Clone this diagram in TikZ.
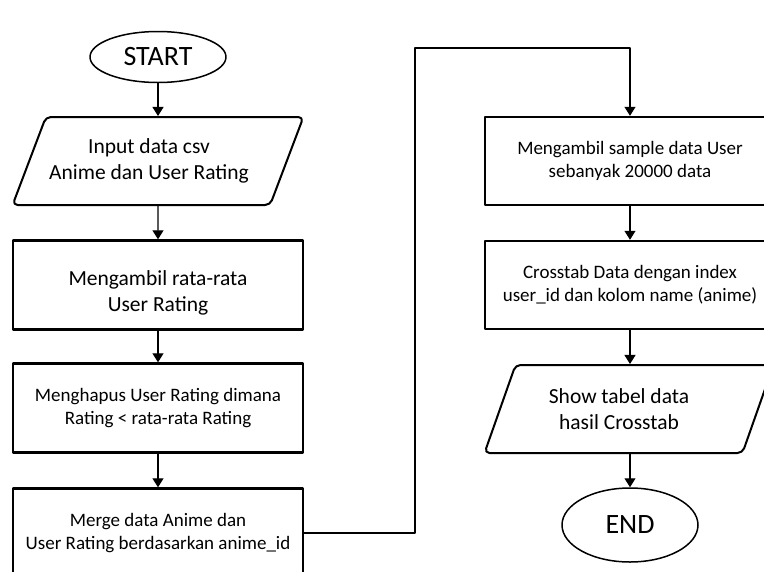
\documentclass[tikz,border=0pt]{standalone}
\usepackage{fontspec}
\setmainfont{Carlito}
\usetikzlibrary{shapes.geometric,arrows.meta}
\newcommand{\txtbig}{\fontsize{21.5}{26}\selectfont}
\newcommand{\txtsmall}{\fontsize{19}{23}\selectfont}
\tikzset{
	terminal/.style={ellipse, draw, line width=1.5pt, minimum width=136pt, font=\fontsize{28}{30}\selectfont},
	process/.style={rectangle, draw, line width=2.4pt, minimum width=290pt, minimum height=89pt, align=center, font=\txtsmall},
	io/.style={trapezium, trapezium left angle=57, trapezium right angle=123, trapezium stretches body,
		draw, line width=2pt, rounded corners=5pt, minimum width=289pt, minimum height=88pt, align=center, font=\txtbig},
	flow/.style={->, line width=1.1pt},
}
\begin{document}
\begin{tikzpicture}[x=1pt, y=-1pt, line join=round, >={Triangle[width=11pt,length=9pt]}]
	\useasboundingbox (0,0) rectangle (764,571);
	\clip (0,0) rectangle (764,571);
	% left column
	\node[terminal, minimum height=51pt] (start) at (158,57) {START};
	\node[io] (input) at (158,161) {Input data csv\hspace*{18pt}\\Anime dan User Rating\hspace*{18pt}};
	\node[process, font=\txtbig] (mean) at (158,285) {\rule{0pt}{30pt}Mengambil rata-rata\\User Rating};
	\node[process] (drop) at (158,408) {Menghapus User Rating dimana\\Rating < rata-rata Rating};
	\node[process] (merge) at (158,533) {Merge data Anime dan\\User Rating berdasarkan anime\_id};
	% right column
	\node[process, minimum height=88pt] (sample) at (630,161) {Mengambil sample data User\\sebanyak 20000 data};
	\node[process, minimum height=88pt] (cross) at (630,285) {Crosstab Data dengan index\\user\_id dan kolom name (anime)};
	\node[io] (show) at (629,409) {Show tabel data\hspace*{20pt}\\hasil Crosstab\hspace*{20pt}};
	\node[terminal, minimum height=74pt] (end) at (630,525) {END};
	\coordinate (turn) at (415,48);
	% arrows
	\draw[flow] (start) -- (input);
	\draw[flow] (input) -- (mean);
	\draw[flow] (mean) -- (drop);
	\draw[flow] (drop) -- (merge);
	\draw[flow] (merge.east) -| (turn) -| (sample.north);
	\draw[flow] (sample) -- (cross);
	\draw[flow] (cross.south) -- (cross.south |- show.north);
	\draw[flow] (end.north |- show.south) -- (end);
\end{tikzpicture}
\end{document}
